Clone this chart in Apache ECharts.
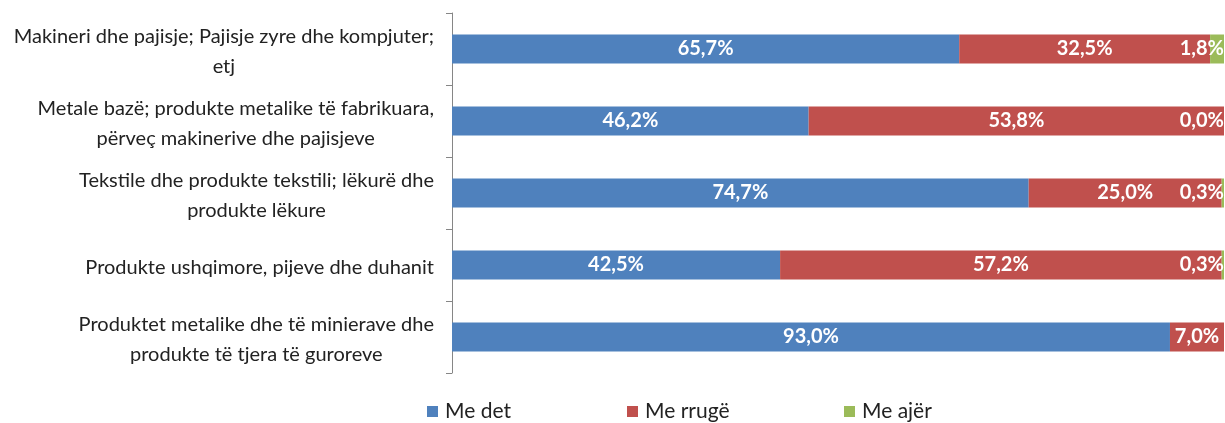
<!DOCTYPE html>
<html>
<head>
<meta charset="utf-8">
<script src="https://cdn.jsdelivr.net/npm/echarts@6/dist/echarts.min.js"></script>
<style>
    html, body {margin: 0; padding: 0; background: #fff;}
    #chart {width: 1225px; height: 423px;}
</style>
</head>
<body>
<div id="chart"></div>
<script>
// kategoritë (rreshtat me dy linja si në origjinal)
var categories = [
    'Makineri dhe pajisje; Pajisje zyre dhe kompjuter;\netj',
    'Metale bazë; produkte metalike të fabrikuara,\npërveç makinerive dhe pajisjeve',
    'Tekstile dhe produkte tekstili; lëkurë dhe\nprodukte lëkure',
    'Produkte ushqimore, pijeve dhe duhanit',
    'Produktet metalike dhe të minierave dhe\nprodukte të tjera të guroreve'
];
var seriesNames = ['Me det', 'Me rrugë', 'Me ajër'];
var meDet = [65.7, 46.2, 74.7, 42.5, 93.0];
var meRruge = [32.5, 53.8, 25.0, 57.2, 7.0];
var meAjer = [1.8, 0.0, 0.3, 0.3, null];

var colors = ['#4F81BD', '#C0504D', '#9BBB59'];
var fontFam = 'Lato, "Open Sans", sans-serif';

function pct(p) {
    if (p.value == null) return '';
    return p.value.toFixed(1).replace('.', ',') + '%';
}

var labelStyle = {
    show: true,
    color: '#fff',
    fontWeight: 'bold',
    fontSize: 20,
    fontFamily: fontFam,
    formatter: pct
};

var myChart = echarts.init(document.getElementById('chart'));
var option = {
    animation: false,
    grid: {left: 452, right: 1, top: 13, bottom: 50},
    legend: [0, 1, 2].map(function (i) {
        return {
            data: [seriesNames[i]],
            left: [427, 627, 844][i],
            top: 401,
            padding: 0,
            icon: 'rect',
            itemWidth: 11,
            itemHeight: 11,
            itemGap: 5,
            textStyle: {fontSize: 21, color: '#222', fontFamily: fontFam, padding: [0, 0, 0, 2]}
        };
    }),
    xAxis: {
        type: 'value',
        min: 0,
        max: 100,
        show: false
    },
    yAxis: {
        type: 'category',
        inverse: true,
        data: categories,
        axisLine: {lineStyle: {color: '#868686'}},
        axisTick: {show: true, length: 6, lineStyle: {color: '#868686'}},
        axisLabel: {
            margin: 18,
            align: 'right',
            padding: [5, 0, 0, 0],
            formatter: function (v) {
                return v.split('\n').map(function (s) {
                    return '{a|' + s + '}';
                }).join('\n');
            },
            rich: {
                a: {
                    align: 'center',
                    fontSize: 20,
                    lineHeight: 30,
                    color: '#222',
                    fontFamily: fontFam
                }
            }
        }
    },
    series: [
        {
            name: seriesNames[0], type: 'bar', stack: 'total', barWidth: 29,
            data: meDet, itemStyle: {color: colors[0]},
            label: Object.assign({position: 'inside'}, labelStyle)
        },
        {
            name: seriesNames[1], type: 'bar', stack: 'total', barWidth: 29,
            data: meRruge, itemStyle: {color: colors[1]},
            label: Object.assign({position: 'inside'}, labelStyle)
        },
        {
            name: seriesNames[2], type: 'bar', stack: 'total', barWidth: 29,
            data: meAjer, itemStyle: {color: colors[2]},
            label: Object.assign({position: 'insideRight', distance: 0}, labelStyle)
        }
    ]
};
myChart.setOption(option);
</script>
</body>
</html>
